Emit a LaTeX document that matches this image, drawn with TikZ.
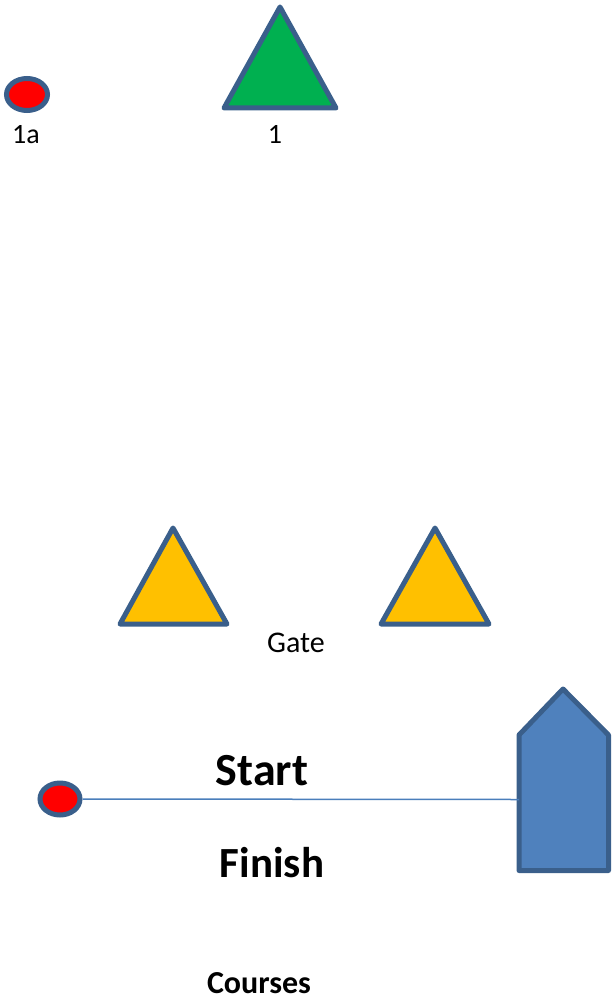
\documentclass[tikz,border=0pt]{standalone}
\usepackage{fontspec}
\setmainfont{Carlito}
\usetikzlibrary{shapes.geometric}
\definecolor{outl}{HTML}{3A5F8B}
\definecolor{mgreen}{HTML}{00B050}
\definecolor{myellow}{HTML}{FFC000}
\definecolor{boatfill}{HTML}{4F81BD}
\definecolor{linec}{HTML}{4A7EBB}
\tikzset{
  markbuoy/.style={ellipse, draw=outl, fill=red, line width=5pt, minimum width=41pt, minimum height=32pt, inner sep=0pt},
  marktri/.style={draw=outl, line width=5pt, line join=round},
  lbl/.style={anchor=base, inner sep=0pt, font=\fontsize{28}{30}\selectfont},
  bigbold/.style={anchor=base, inner sep=0pt, font=\bfseries\fontsize{#1}{#1}\selectfont}
}
\begin{document}
\begin{tikzpicture}[x=1pt,y=-1pt]
\useasboundingbox (0,0) rectangle (611,1003);
% mark 1a
\node[markbuoy] (m1a) at (27,94.5) {};
\node[lbl] (t1a) at (26,144) {1a};
% mark 1
\draw[marktri, fill=mgreen] (280,7) -- (336,108) -- (224,108) -- cycle;
\node[lbl] (t1) at (275,144) {1};
% gate
\draw[marktri, fill=myellow] (173,528) -- (227,624) -- (120,624) -- cycle;
\draw[marktri, fill=myellow] (435,528) -- (489,624) -- (381,624) -- cycle;
\node[lbl, font=\fontsize{30}{32}\selectfont] (gate) at (296,652) {Gate};
% boat
\draw[draw=outl, fill=boatfill, line width=5pt, line join=round]
  (519,735) -- (563,689) -- (608.5,735) -- (608.5,870.5) -- (519,870.5) -- cycle;
\coordinate (boatL) at (519,799.5);
% start mark
\node[markbuoy, minimum width=40pt] (m2) at (60,799) {};
\draw[linec, line width=1.5pt] (m2.east) -- (boatL);
% texts
\node[bigbold=46] (start) at (262,785) {Start};
\node[bigbold=43] (finish) at (272,877) {Finish};
\node[bigbold=32] (courses) at (259,993) {Courses};
\end{tikzpicture}
\end{document}
